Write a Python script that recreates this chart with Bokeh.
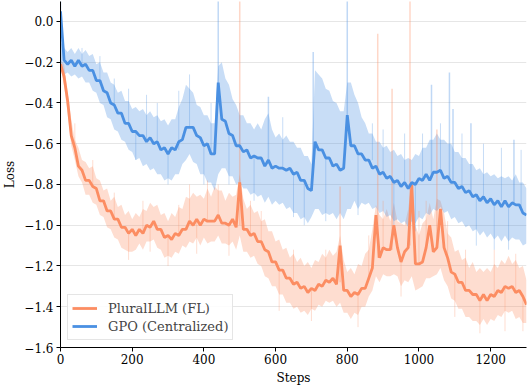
import numpy as np
from bokeh.plotting import figure
from bokeh.models import FixedTicker, CustomJSTickFormatter, Range1d
from bokeh.embed import file_html
from bokeh.resources import INLINE

# ---- data ----
steps = np.arange(0, 1301, 10)

plural_smooth = [
    -0.21, -0.27, -0.39, -0.56, -0.62, -0.71, -0.73, -0.78, -0.78, -0.81,
    -0.82, -0.88, -0.88, -0.93, -0.93, -0.97, -0.97, -1.01, -1.01, -1.04,
    -1.02, -1.05, -1.02, -1.04, -1.00, -1.01, -0.98, -1.02, -1.02, -1.06,
    -1.05, -1.07, -1.04, -1.05, -1.02, -1.02, -0.98, -1.00, -0.97, -1.00,
    -0.97, -0.98, -0.98, -0.98, -0.95, -0.99, -0.99, -1.00, -0.97, -1.01,
    -0.79, -1.02, -1.02, -1.05, -1.04, -1.08, -1.08, -1.12, -1.13, -1.18,
    -1.18, -1.22, -1.22, -1.26, -1.26, -1.29, -1.28, -1.31, -1.30, -1.33,
    -1.31, -1.32, -1.29, -1.30, -1.27, -1.28, -1.26, -1.29, -1.10, -1.32,
    -1.32, -1.35, -1.33, -1.34, -1.31, -1.31, -1.26, -1.21, -0.95, -1.16,
    -1.11, -1.12, -1.12, -1.00, -1.11, -1.18, -1.13, -1.11, -0.80, -1.19,
    -1.19, -1.18, -1.11, -1.00, -1.13, -1.11, -0.92, -1.11, -1.16, -1.23,
    -1.24, -1.28, -1.28, -1.32, -1.32, -1.34, -1.34, -1.37, -1.34, -1.37,
    -1.34, -1.35, -1.32, -1.33, -1.30, -1.31, -1.30, -1.33, -1.32, -1.35,
    -1.39,
]
# spread of the raw PluralLLM curve (upper / lower edge)
plural_hi = [
    -0.19, -0.21, -0.35, -0.48, -0.58, -0.62, -0.68, -0.69, -0.72, -0.71,
    -0.77, -0.78, -0.83, -0.82, -0.88, -0.86, -0.91, -0.90, -0.95, -0.93,
    -0.97, -0.94, -0.96, -0.92, -0.93, -0.89, -0.91, -0.90, -0.95, -0.94,
    -0.98, -0.94, -0.96, -0.91, -0.92, -0.86, -0.87, -0.84, -0.86, -0.85,
    -0.87, -0.82, -0.86, -0.81, -0.83, -0.83, -0.88, -0.84, -0.86, -0.85,
    -0.75, -0.87, -0.92, -0.90, -0.94, -0.93, -0.98, -0.97, -1.03, -1.03,
    -1.08, -1.07, -1.12, -1.11, -1.16, -1.14, -1.18, -1.16, -1.20, -1.18,
    -1.21, -1.17, -1.18, -1.14, -1.16, -1.12, -1.15, -1.13, -1.05, -1.17,
    -1.23, -1.21, -1.24, -1.19, -1.20, -1.14, -1.12, -1.02, -0.90, -0.95,
    -0.97, -0.92, -0.98, -0.89, -0.98, -0.99, -1.00, -0.92, -0.78, -1.00,
    -1.05, -0.99, -0.97, -0.89, -0.97, -0.87, -0.88, -0.94, -1.04, -1.06,
    -1.13, -1.12, -1.17, -1.16, -1.21, -1.18, -1.23, -1.21, -1.23, -1.21,
    -1.23, -1.19, -1.21, -1.17, -1.19, -1.15, -1.19, -1.17, -1.21, -1.20,
    -1.27,
]
plural_lo = [
    -0.22, -0.32, -0.45, -0.61, -0.68, -0.76, -0.79, -0.85, -0.85, -0.89,
    -0.90, -0.95, -0.96, -1.01, -1.02, -1.06, -1.07, -1.11, -1.12, -1.13,
    -1.13, -1.12, -1.09, -1.12, -1.08, -1.08, -1.07, -1.11, -1.12, -1.16,
    -1.15, -1.16, -1.13, -1.14, -1.10, -1.11, -1.08, -1.09, -1.06, -1.10,
    -1.06, -1.09, -1.08, -1.08, -1.05, -1.09, -1.09, -1.10, -1.08, -1.12,
    -1.05, -1.13, -1.13, -1.16, -1.15, -1.19, -1.20, -1.25, -1.26, -1.30,
    -1.30, -1.34, -1.34, -1.38, -1.38, -1.41, -1.40, -1.43, -1.42, -1.44,
    -1.41, -1.42, -1.39, -1.40, -1.37, -1.38, -1.37, -1.40, -1.38, -1.43,
    -1.43, -1.46, -1.43, -1.44, -1.40, -1.40, -1.35, -1.32, -1.25, -1.28,
    -1.24, -1.25, -1.25, -1.24, -1.25, -1.30, -1.27, -1.28, -1.25, -1.32,
    -1.31, -1.30, -1.26, -1.26, -1.25, -1.24, -1.21, -1.27, -1.30, -1.36,
    -1.37, -1.41, -1.41, -1.45, -1.45, -1.47, -1.47, -1.49, -1.46, -1.49,
    -1.46, -1.47, -1.44, -1.45, -1.42, -1.43, -1.42, -1.46, -1.45, -1.48,
    -1.48,
]
# raw spikes of PluralLLM: step, top value, value it leaves from
plural_spike_steps = [500, 780, 885, 925, 975, 1050]
plural_spike_top = [0.12, -0.81, -0.06, -0.33, 0.12, -0.53]
plural_spike_base = [-1.00, -1.28, -1.16, -1.12, -1.10, -1.10]
# smaller raw excursions of PluralLLM
plural_noise_steps = [40, 90, 150, 190, 230, 250, 300, 330, 360, 380, 410, 440,
                      470, 530, 560, 610, 650, 700, 740, 830, 860, 900, 950,
                      1000, 1020, 1080, 1100, 1130, 1170, 1210, 1240, 1270, 1290]
plural_noise_top = [-0.50, -0.68, -0.84, -1.17, -0.88, -1.13, -1.20, -0.90, -0.80,
                    -1.14, -0.78, -0.80, -1.15, -0.88, -0.93, -1.42, -1.12, -1.47,
                    -1.12, -1.50, -1.05, -0.88, -1.35, -0.93, -0.88, -0.98, -1.45,
                    -1.12, -1.53, -1.12, -1.52, -1.14, -1.52]
plural_noise_base = [-0.62, -0.80, -0.96, -1.03, -1.03, -1.00, -1.05, -1.05, -0.98,
                     -0.97, -0.98, -0.95, -1.00, -1.05, -1.08, -1.22, -1.29, -1.31,
                     -1.27, -1.34, -1.26, -1.11, -1.18, -1.19, -1.11, -1.16, -1.24,
                     -1.32, -1.37, -1.35, -1.30, -1.33, -1.35]

gpo_smooth = [
    0.05, -0.19, -0.21, -0.19, -0.22, -0.19, -0.22, -0.21, -0.24, -0.24,
    -0.29, -0.29, -0.34, -0.35, -0.40, -0.41, -0.45, -0.45, -0.50, -0.50,
    -0.54, -0.54, -0.56, -0.56, -0.59, -0.57, -0.60, -0.59, -0.63, -0.62,
    -0.65, -0.62, -0.63, -0.59, -0.58, -0.52, -0.52, -0.52, -0.56, -0.57,
    -0.61, -0.60, -0.65, -0.65, -0.30, -0.48, -0.49, -0.55, -0.56, -0.61,
    -0.61, -0.64, -0.63, -0.67, -0.66, -0.67, -0.67, -0.71, -0.68, -0.72,
    -0.71, -0.72, -0.72, -0.73, -0.72, -0.75, -0.74, -0.78, -0.78, -0.82,
    -0.83, -0.59, -0.63, -0.63, -0.67, -0.67, -0.71, -0.70, -0.73, -0.72,
    -0.46, -0.61, -0.61, -0.65, -0.65, -0.68, -0.68, -0.72, -0.71, -0.75,
    -0.74, -0.77, -0.76, -0.79, -0.78, -0.81, -0.79, -0.82, -0.79, -0.80,
    -0.77, -0.78, -0.75, -0.78, -0.74, -0.74, -0.73, -0.77, -0.76, -0.79,
    -0.79, -0.82, -0.81, -0.84, -0.83, -0.86, -0.85, -0.88, -0.86, -0.89,
    -0.87, -0.90, -0.88, -0.91, -0.88, -0.91, -0.89, -0.90, -0.90, -0.94,
    -0.95,
]
# spread of the raw GPO curve (upper / lower edge)
gpo_hi = [
    -0.10, -0.13, -0.15, -0.13, -0.16, -0.13, -0.16, -0.14, -0.17, -0.16,
    -0.21, -0.20, -0.25, -0.25, -0.30, -0.31, -0.35, -0.34, -0.39, -0.39,
    -0.43, -0.42, -0.44, -0.43, -0.46, -0.44, -0.47, -0.46, -0.49, -0.48,
    -0.51, -0.48, -0.48, -0.42, -0.38, -0.31, -0.33, -0.35, -0.41, -0.42,
    -0.46, -0.46, -0.50, -0.50, -0.22, -0.20, -0.28, -0.31, -0.38, -0.41,
    -0.46, -0.46, -0.50, -0.50, -0.53, -0.50, -0.53, -0.48, -0.45, -0.53,
    -0.57, -0.55, -0.58, -0.56, -0.59, -0.59, -0.62, -0.62, -0.66, -0.66,
    -0.70, -0.24, -0.26, -0.28, -0.33, -0.34, -0.39, -0.40, -0.44, -0.44,
    -0.30, -0.30, -0.36, -0.40, -0.47, -0.50, -0.55, -0.55, -0.59, -0.59,
    -0.62, -0.61, -0.64, -0.63, -0.66, -0.65, -0.68, -0.67, -0.68, -0.65,
    -0.66, -0.62, -0.62, -0.58, -0.58, -0.55, -0.58, -0.58, -0.60, -0.60,
    -0.64, -0.64, -0.67, -0.67, -0.70, -0.70, -0.73, -0.72, -0.75, -0.74,
    -0.76, -0.75, -0.77, -0.76, -0.77, -0.76, -0.78, -0.75, -0.79, -0.79,
    -0.82,
]
gpo_lo = [
    -0.22, -0.26, -0.25, -0.27, -0.26, -0.28, -0.27, -0.30, -0.30, -0.34,
    -0.35, -0.40, -0.41, -0.47, -0.48, -0.53, -0.54, -0.58, -0.59, -0.63,
    -0.64, -0.68, -0.67, -0.71, -0.70, -0.73, -0.72, -0.75, -0.75, -0.78,
    -0.77, -0.78, -0.75, -0.75, -0.70, -0.68, -0.65, -0.69, -0.70, -0.75,
    -0.75, -0.79, -0.79, -0.83, -0.75, -0.72, -0.72, -0.76, -0.76, -0.80,
    -0.79, -0.82, -0.82, -0.85, -0.84, -0.86, -0.85, -0.89, -0.86, -0.90,
    -0.88, -0.90, -0.89, -0.92, -0.91, -0.94, -0.94, -0.97, -0.96, -0.99,
    -0.96, -0.92, -0.92, -0.95, -0.94, -0.95, -0.94, -0.97, -0.94, -0.97,
    -0.92, -0.92, -0.88, -0.92, -0.89, -0.90, -0.89, -0.92, -0.91, -0.94,
    -0.93, -0.96, -0.95, -0.98, -0.97, -0.99, -0.98, -1.01, -0.98, -0.99,
    -0.96, -0.97, -0.94, -0.95, -0.92, -0.93, -0.91, -0.94, -0.93, -0.97,
    -0.96, -0.99, -0.98, -1.01, -1.00, -1.03, -1.02, -1.05, -1.03, -1.06,
    -1.04, -1.07, -1.05, -1.08, -1.05, -1.08, -1.06, -1.07, -1.07, -1.10,
    -1.09,
]
# raw spikes of GPO
gpo_spike_steps = [0, 440, 580, 705, 800, 1035, 1085, 1095, 1145, 1265]
gpo_spike_top = [0.12, 0.12, -0.37, -0.15, 0.12, -0.31, -0.25, -0.43, -0.50, -0.58]
gpo_spike_base = [-0.20, -0.40, -0.68, -0.70, -0.50, -0.77, -0.78, -0.79, -0.85, -0.90]
# smaller raw excursions of GPO
gpo_noise_steps = [60, 110, 150, 190, 210, 240, 270, 300, 330, 360, 400, 420, 470,
                   500, 540, 620, 650, 680, 740, 830, 870, 900, 930, 960, 990,
                   1010, 1060, 1120, 1160, 1180, 1210, 1230, 1250, 1285]
gpo_noise_top = [-0.13, -0.17, -0.28, -0.33, -0.68, -0.36, -0.40, -0.80, -0.34,
                 -0.26, -0.80, -0.40, -0.80, -0.40, -0.88, -0.47, -0.96, -1.00,
                 -0.98, -0.95, -0.50, -0.53, -1.02, -0.55, -1.03, -0.55, -0.50,
                 -0.55, -1.10, -0.60, -1.12, -0.62, -1.12, -0.63]
gpo_noise_base = [-0.22, -0.29, -0.41, -0.50, -0.54, -0.59, -0.60, -0.65, -0.63,
                  -0.52, -0.61, -0.65, -0.55, -0.61, -0.66, -0.72, -0.75, -0.78,
                  -0.67, -0.65, -0.68, -0.74, -0.79, -0.79, -0.80, -0.78, -0.73,
                  -0.81, -0.85, -0.86, -0.90, -0.88, -0.91, -0.92]

x_ticks = [0, 200, 400, 600, 800, 1000, 1200]
y_ticks = [-1.6, -1.4, -1.2, -1.0, -0.8, -0.6, -0.4, -0.2, 0.0]

for arr in (plural_smooth, gpo_smooth, plural_hi, plural_lo, gpo_hi, gpo_lo):
    assert len(arr) == len(steps), len(arr)
assert len(plural_noise_steps) == len(plural_noise_top) == len(plural_noise_base)
assert len(gpo_noise_steps) == len(gpo_noise_top) == len(gpo_noise_base)

ORANGE = "#fc8d62"
BLUE = "#4a90e2"
FONT = "'DejaVu Serif', serif"

p = figure(width=528, height=388, output_backend="svg", toolbar_location=None,
           x_range=Range1d(0, 1300), y_range=Range1d(-1.6, 0.098))
p.min_border_left = 60
p.min_border_right = 2
p.min_border_top = 1
p.min_border_bottom = 41
p.outline_line_color = None
p.background_fill_color = "white"

p.varea(steps, plural_lo, plural_hi, fill_color=ORANGE, fill_alpha=0.3)
p.varea(steps, gpo_lo, gpo_hi, fill_color=BLUE, fill_alpha=0.3)
p.segment(plural_noise_steps, plural_noise_base, plural_noise_steps, plural_noise_top,
          line_color=ORANGE, line_alpha=0.3, line_width=1)
p.segment(gpo_noise_steps, gpo_noise_base, gpo_noise_steps, gpo_noise_top,
          line_color=BLUE, line_alpha=0.3, line_width=1)
p.segment(plural_spike_steps, plural_spike_base, plural_spike_steps, plural_spike_top,
          line_color=ORANGE, line_alpha=0.35, line_width=1.5)
p.segment(gpo_spike_steps, gpo_spike_base, gpo_spike_steps, gpo_spike_top,
          line_color=BLUE, line_alpha=0.35, line_width=1.5)
p.line(steps, plural_smooth, line_color=ORANGE, line_width=2.8,
       legend_label="PluralLLM (FL)")
p.line(steps, gpo_smooth, line_color=BLUE, line_width=2.8,
       legend_label="GPO (Centralized)")

p.xaxis.ticker = FixedTicker(ticks=x_ticks)
p.yaxis.ticker = FixedTicker(ticks=y_ticks)
p.yaxis.formatter = CustomJSTickFormatter(
    code="return (Math.abs(tick) < 1e-9 ? 0 : tick).toFixed(1).replace('-', '\u2212');")

for ax in (p.xaxis, p.yaxis):
    ax.major_label_text_font = FONT
    ax.major_label_text_font_size = "12px"
    ax.major_label_text_color = "black"
    ax.axis_label_text_font = FONT
    ax.axis_label_text_font_size = "12px"
    ax.axis_label_text_font_style = "normal"
    ax.axis_label_text_color = "black"
    ax.axis_line_color = "black"
    ax.major_tick_line_color = "black"
    ax.minor_tick_line_color = None
    ax.major_tick_in = 0
    ax.major_tick_out = 4

p.xaxis.major_label_standoff = 2
p.xaxis.axis_label_standoff = 4
p.yaxis.major_label_standoff = 3
p.yaxis.axis_label_standoff = 4

p.xaxis.axis_label = "Steps"
p.yaxis.axis_label = "Loss"

p.xgrid.grid_line_color = None
p.ygrid.grid_line_color = "#e6e6e6"
p.ygrid.grid_line_width = 1

lg = p.legend[0]
lg.location = "bottom_left"
lg.margin = 7
lg.padding = 4
lg.spacing = 0
lg.glyph_width = 25
lg.glyph_height = 18
lg.label_standoff = 11
lg.label_text_font = FONT
lg.label_text_font_size = "13px"
lg.border_line_color = "#cccccc"
lg.background_fill_alpha = 0.85

open("out.html", "w").write(file_html(p, INLINE))
